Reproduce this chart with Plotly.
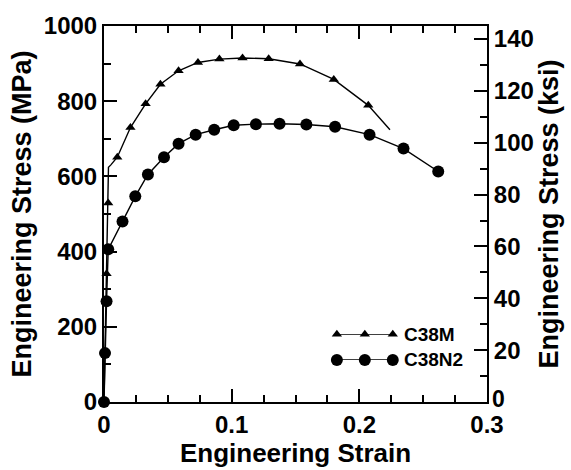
import plotly.graph_objects as go

# C38M curve (strain, MPa)
m_strain = [0, 0.002, 0.0033, 0.0035, 0.0052, 0.0104, 0.0207, 0.0326, 0.0442, 0.0584, 0.0736,
            0.0904, 0.1085, 0.129, 0.1535, 0.180, 0.207, 0.224]
m_stress = [0, 341, 529, 624, 630, 651, 730, 793, 845, 881, 903, 912, 915, 913, 899, 858, 789, 724]
# C38M triangle markers
m_mk_strain = [0, 0.002, 0.0033, 0.0104, 0.0207, 0.0326, 0.0442, 0.0584, 0.0736, 0.0904,
               0.1085, 0.129, 0.1535, 0.180, 0.207]
m_mk_stress = [0, 341, 529, 651, 730, 793, 845, 881, 903, 912, 915, 913, 899, 858, 789]

# C38N2 curve (strain, MPa)
n_strain = [0, 0.0008, 0.002, 0.0033, 0.0145, 0.0245, 0.0344, 0.047, 0.0584, 0.0718, 0.0863,
            0.1016, 0.119, 0.1375, 0.1585, 0.181, 0.208, 0.2346, 0.2618, 0.2635]
n_stress = [0, 130, 268, 406, 480, 547, 605, 651, 687, 711, 724, 736, 739, 740, 738, 732, 711,
            674, 613, 606]
# C38N2 circle markers
n_mk_strain = n_strain[:-1]
n_mk_stress = n_stress[:-1]

x_ticks = [0, 0.1, 0.2, 0.3]
x_labels = ["0", "0.1", "0.2", "0.3"]
y_ticks = [0, 200, 400, 600, 800, 1000]
ksi_ticks = [0, 20, 40, 60, 80, 100, 120, 140]
ksi_labels = ["", "20", "40", "60", "80", "100", "120", "140"]
MPA_PER_KSI = 6.89476

legend_names = ["C38M", "C38N2"]

FONT = "Liberation Sans, Arial, sans-serif"
BLACK = "#000000"

fig = go.Figure()

fig.add_trace(go.Scatter(x=m_strain, y=m_stress, mode="lines",
                         line=dict(color=BLACK, width=1.4), showlegend=False))
fig.add_trace(go.Scatter(x=m_mk_strain, y=m_mk_stress, mode="markers",
                         marker=dict(symbol="triangle-up", size=9, color=BLACK),
                         showlegend=False, cliponaxis=False))
fig.add_trace(go.Scatter(x=n_strain, y=n_stress, mode="lines",
                         line=dict(color=BLACK, width=1.4), showlegend=False))
fig.add_trace(go.Scatter(x=n_mk_strain, y=n_mk_stress, mode="markers",
                         marker=dict(symbol="circle", size=12, color=BLACK),
                         showlegend=False, cliponaxis=False))

# custom legend on its own small axis
leg_x = [0, 1, 2]
fig.add_trace(go.Scatter(x=leg_x, y=[1, 1, 1], xaxis="x3", yaxis="y3", mode="lines+markers",
                         line=dict(color=BLACK, width=1.4),
                         marker=dict(symbol="triangle-up", size=9, color=BLACK),
                         showlegend=False, cliponaxis=False, hoverinfo="skip"))
fig.add_trace(go.Scatter(x=leg_x, y=[0, 0, 0], xaxis="x3", yaxis="y3", mode="lines+markers",
                         line=dict(color=BLACK, width=1.4),
                         marker=dict(symbol="circle", size=12, color=BLACK),
                         showlegend=False, cliponaxis=False, hoverinfo="skip"))
for yv, name in zip([1, 0], legend_names):
    fig.add_annotation(x=2, y=yv, xref="x3", yref="y3", text=name, showarrow=False,
                       xanchor="left", yanchor="middle", xshift=9,
                       font=dict(family=FONT, size=19, color=BLACK, weight="bold"))

# helper trace to activate y2
fig.add_trace(go.Scatter(x=[0], y=[0], yaxis="y2", mode="markers",
                         marker=dict(size=0.1, opacity=0), showlegend=False, hoverinfo="skip"))

# right-axis zero label, nudged up slightly to clear the x tick label below it
fig.add_annotation(x=1, y=0, xref="paper", yref="y2", text="0", showarrow=False,
                   xanchor="left", yanchor="middle", xshift=3, yshift=3,
                   font=dict(family=FONT, size=23, color=BLACK, weight="bold"))

tickfont = dict(family=FONT, size=24, color=BLACK, weight="bold")
titlefont = dict(family=FONT, size=26, color=BLACK, weight="bold")

fig.update_layout(
    width=571, height=470,
    margin=dict(l=104, r=80, t=15, b=68),
    paper_bgcolor="white", plot_bgcolor="white",
    showlegend=False,
    xaxis=dict(range=[0, 0.3], tickvals=x_ticks, ticktext=x_labels,
               ticks="inside", ticklen=13, tickwidth=1.5, tickcolor=BLACK,
               minor=dict(dtick=0.025, ticks="inside", ticklen=7, tickwidth=1.5, tickcolor=BLACK),
               showline=True, linewidth=2, linecolor=BLACK, mirror="ticks",
               showgrid=False, zeroline=False, tickfont=tickfont,
               title=dict(text="Engineering Strain", font=titlefont, standoff=0)),
    yaxis=dict(range=[0, 1000], tickvals=y_ticks,
               ticks="inside", ticklen=13, tickwidth=1.5, tickcolor=BLACK,
               minor=dict(dtick=100, ticks="inside", ticklen=7, tickwidth=1.5, tickcolor=BLACK),
               showline=True, linewidth=2, linecolor=BLACK,
               showgrid=False, zeroline=False, tickfont=tickfont,
               title=dict(text="Engineering Stress (MPa)", font=dict(family=FONT, size=27, color=BLACK, weight="bold"), standoff=4)),
    yaxis2=dict(overlaying="y", side="right", range=[0, 1000 / MPA_PER_KSI], tickvals=ksi_ticks,
                ticktext=ksi_labels,
                ticks="inside", ticklen=13, tickwidth=1.5, tickcolor=BLACK,
                minor=dict(dtick=10, ticks="inside", ticklen=7, tickwidth=1.5, tickcolor=BLACK),
                showline=True, linewidth=2, linecolor=BLACK,
                showgrid=False, zeroline=False, tickfont=tickfont,
                title=dict(text="Engineering Stress (ksi)", font=dict(family=FONT, size=27, color=BLACK, weight="bold"), standoff=6)),
    xaxis3=dict(domain=[0.608, 0.754], range=[0, 2], visible=False, fixedrange=True),
    yaxis3=dict(domain=[0.112, 0.180], range=[0, 1], visible=False, fixedrange=True, anchor="x3"),
)

fig.write_html("out.html")
